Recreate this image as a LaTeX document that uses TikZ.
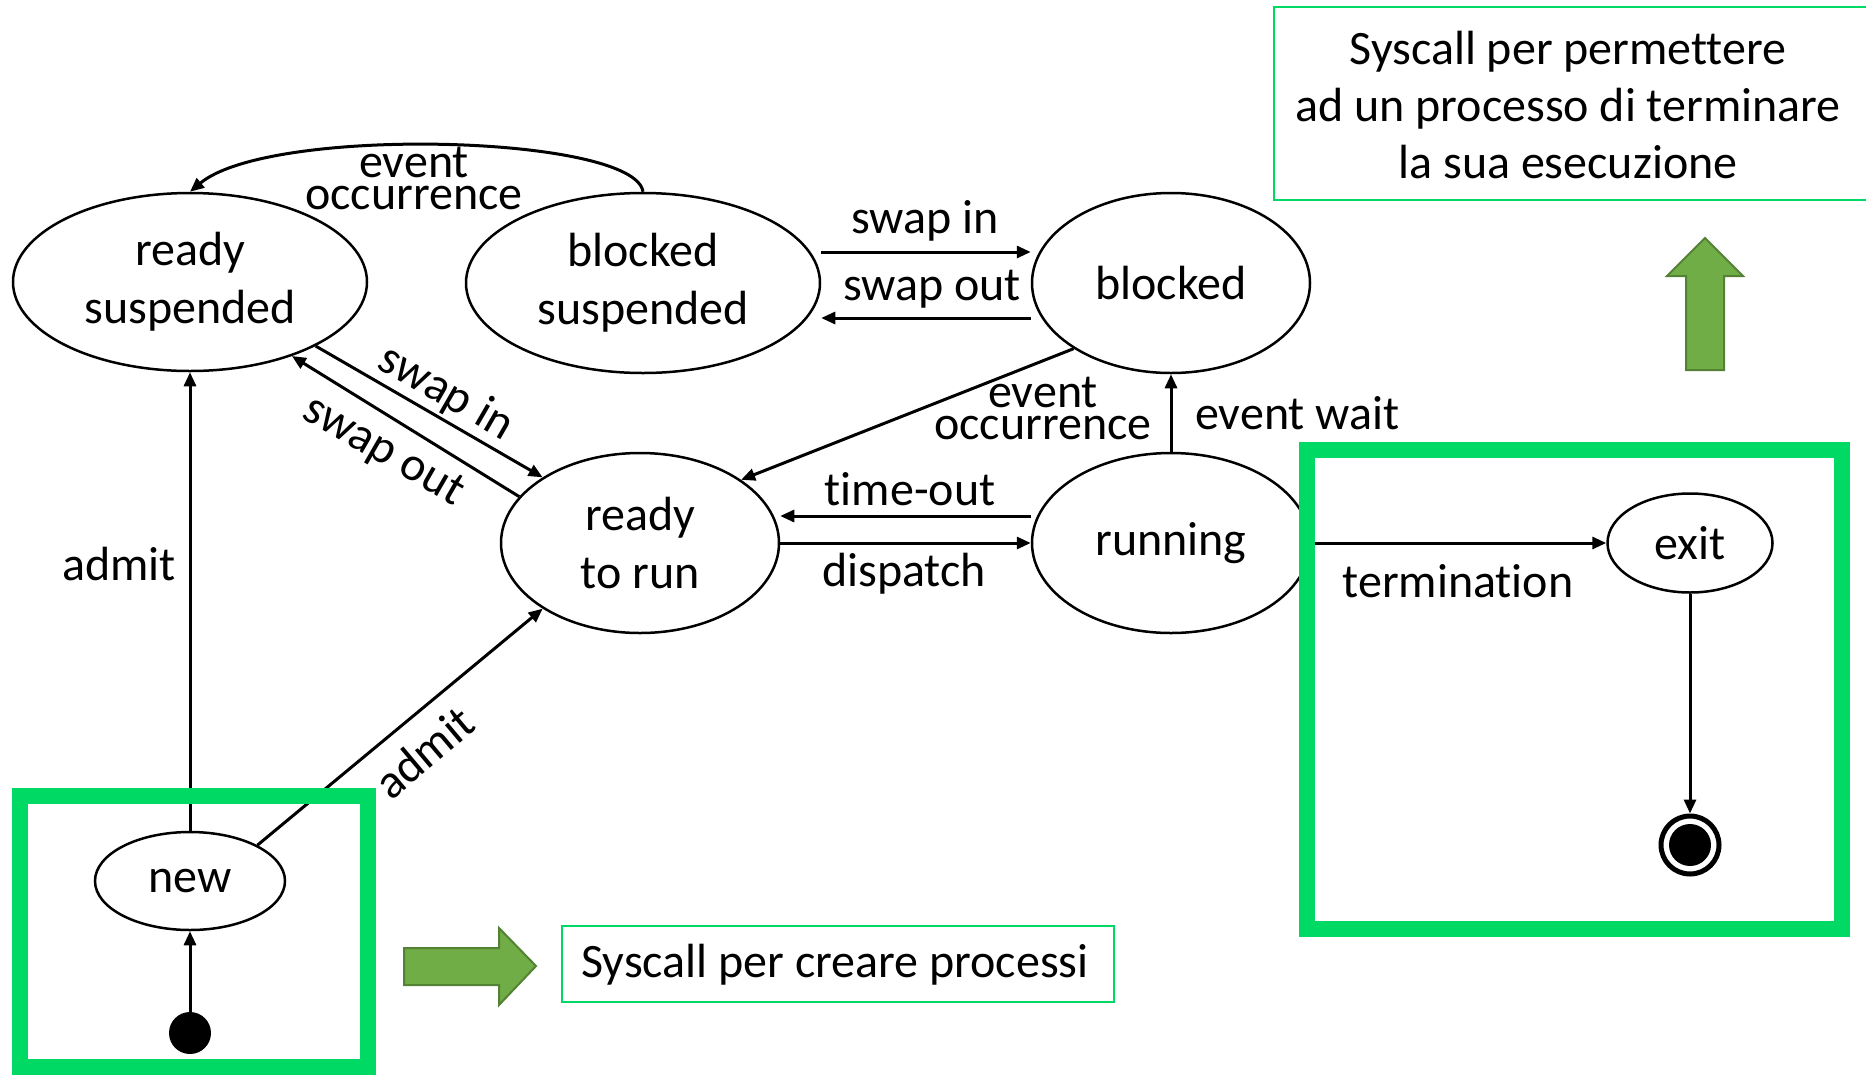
\documentclass[tikz,border=0pt]{standalone}
\usepackage{fontspec}
\setmainfont[Ligatures=NoCommon]{Carlito}
\usetikzlibrary{arrows.meta,shapes.geometric}
\definecolor{gbox}{HTML}{00D964}
\definecolor{garrow}{HTML}{70AD47}
\definecolor{garrowd}{HTML}{548235}
\begin{document}
\begin{tikzpicture}[x=1pt,y=-1pt,
  every node/.style={font=\fontsize{48}{58}\selectfont},
  st/.style={ellipse,draw,line width=2.5pt,inner sep=0pt,align=center},
  conn/.style={line width=3pt,-{Triangle[length=14pt,width=12pt]}},
  lbl/.style={inner sep=0pt},
  tight/.style={font=\fontsize{48}{32}\selectfont,align=center,inner sep=0pt},
  gthick/.style={draw=gbox,line width=16pt},
  gthin/.style={draw=gbox,line width=2pt},
  garr/.style={fill=garrow,draw=garrowd,line width=2pt}]
\fill[white] (0,0) rectangle (1866,1074);
\useasboundingbox (0,0) rectangle (1866,1074);

% states
\node[st,minimum width=354pt,minimum height=178pt] (rs) at (190,282) {ready\\suspended};
\node[st,minimum width=354pt,minimum height=180pt] (bs) at (643,283) {blocked\\suspended};
\node[st,minimum width=278pt,minimum height=180pt] (b) at (1171,283) {blocked};
\node[st,minimum width=278pt,minimum height=180pt] (rtr) at (640,543) {ready\\to run};
\node[st,minimum width=278pt,minimum height=180pt] (run) at (1171,543) {running};
\node[st,minimum width=165pt,minimum height=99pt] (exit) at (1690,543) {exit};
\node[st,minimum width=190pt,minimum height=98pt] (new) at (190,881) {new};
\node[circle,fill,minimum size=42pt,inner sep=0pt] (init) at (190,1033) {};
\node[circle,draw,line width=5pt,minimum size=58pt,inner sep=0pt] (fin) at (1690,845) {};
\node[circle,fill,minimum size=42pt,inner sep=0pt] (findot) at (fin) {};

% connectors
\draw[conn] (bs.north) .. controls (635,135) and (270,125) .. (rs.north);
\node[tight] (l1) at (414,178) {event\\occurrence};
\draw[conn] ([yshift=31pt]bs.east) -- ([yshift=31pt]b.west);
\node[lbl] (l2) at (925,221) {swap in};
\draw[conn] ([yshift=-35pt]b.west) -- ([yshift=-35pt]bs.east);
\node[lbl] (l3) at (932,289) {swap out};
\draw[conn] (rs.-27) -- (rtr.146);
\node[lbl,rotate=-30] (l4) at (446,393) {swap in};
\draw[conn] (rtr.159) -- (rs.-36);
\node[lbl,rotate=-30] (l5) at (383,452) {swap out};
\draw[conn] (b.-146) -- (rtr.32);
\node[tight] (l6) at (1043,408) {event\\occurrence};
\draw[conn] (run.north) -- (b.south);
\node[lbl,anchor=west] (l7) at (1195,413) {event wait};
\draw[conn] ([yshift=27pt]run.west) -- ([yshift=27pt]rtr.east);
\node[lbl] (l8) at (910,489) {time-out};
\draw[conn] (rtr.east) -- (run.west);
\node[lbl] (l9) at (904,574) {dispatch};
\draw[conn] (run.east) -- (exit.west);
\node[lbl] (l10) at (1458,581) {termination};
\draw[conn] (exit.south) -- (fin.north);
\draw[conn] (init) -- (new.south);
\draw[conn] (new.north) -- (rs.south);
\node[lbl] (l11) at (119,564) {admit};
\draw[conn] (new.28) -- (rtr.-146);
\node[lbl,rotate=40] (l12) at (424,752) {admit};

% green frames
\draw[gthick] (20,796) rectangle (368,1067);
\draw[gthick] (1307,450) rectangle (1842,929);
\draw[gthin] (1274,7) rectangle (1880,200);
\node[align=center,inner sep=0pt,font=\fontsize{48}{57}\selectfont] (t1) at (1568,105) {Syscall per permettere\\ad un processo di terminare\\la sua esecuzione};
\draw[gthin] (562,926) rectangle (1114,1002);
\node[inner sep=0pt] (t2) at (835,965) {Syscall per creare processi};

% green arrows
\draw[garr] (404,948) -- (499,948) -- (499,928) -- (536,966) -- (499,1005) -- (499,985) -- (404,985) -- cycle;
\draw[garr] (1686,370) -- (1686,276) -- (1667,276) -- (1705,238) -- (1743,276) -- (1724,276) -- (1724,370) -- cycle;
\end{tikzpicture}
\end{document}
